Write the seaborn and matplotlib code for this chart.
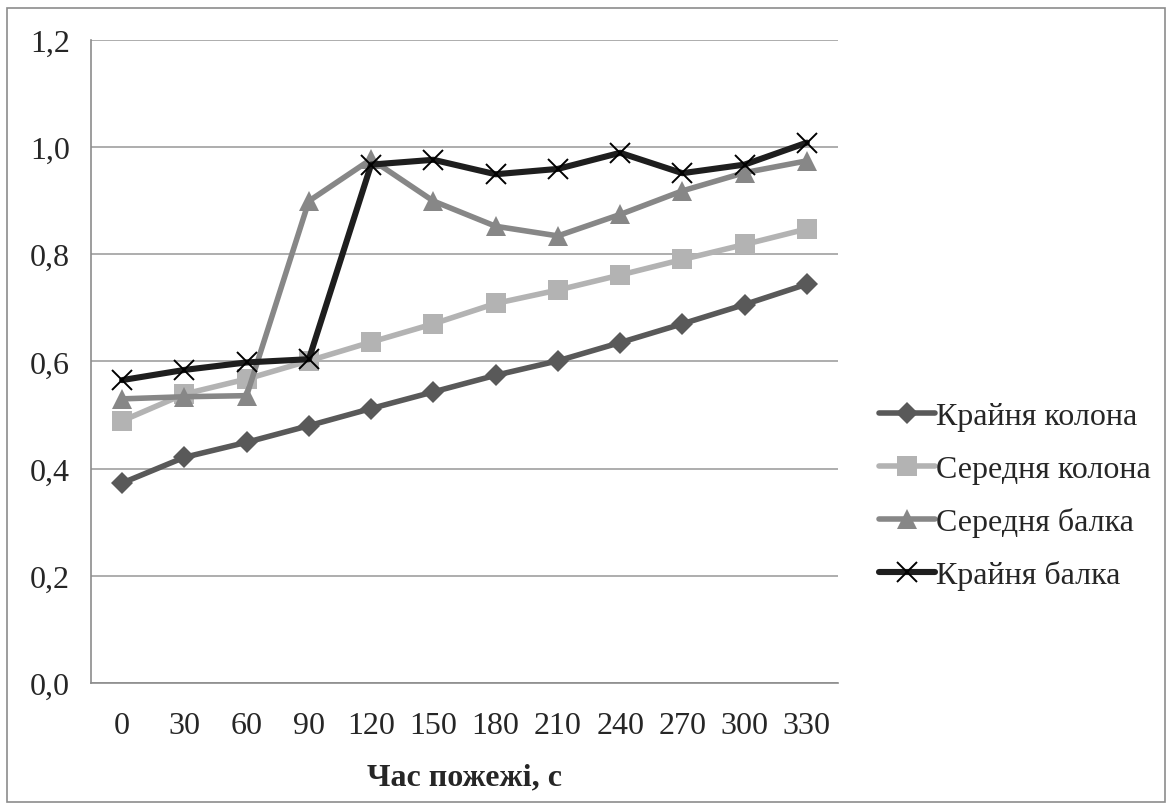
import matplotlib
matplotlib.use("Agg")
import matplotlib.pyplot as plt
import seaborn as sns
import pandas as pd
from matplotlib.patches import Rectangle

times = ["0", "30", "60", "90", "120", "150", "180", "210", "240", "270", "300", "330"]
kraynya_kolona = [0.373, 0.421, 0.449, 0.480, 0.512, 0.543, 0.574, 0.601, 0.635, 0.670, 0.706, 0.744]
serednya_kolona = [0.489, 0.539, 0.567, 0.601, 0.636, 0.670, 0.708, 0.733, 0.761, 0.790, 0.818, 0.847]
serednya_balka = [0.530, 0.534, 0.536, 0.899, 0.977, 0.899, 0.852, 0.834, 0.874, 0.918, 0.952, 0.974]
kraynya_balka = [0.565, 0.584, 0.598, 0.604, 0.967, 0.976, 0.949, 0.959, 0.989, 0.951, 0.967, 1.008]
series_names = ["Крайня колона", "Середня колона", "Середня балка", "Крайня балка"]
yticks = [0.0, 0.2, 0.4, 0.6, 0.8, 1.0, 1.2]
xlabel = "Час пожежі, с"

sns.set_style("white")
plt.rcParams["font.family"] = ["Liberation Serif", "DejaVu Serif"]

FS = 23

fig = plt.figure(figsize=(11.74, 8.12), dpi=100)
ax = fig.add_axes([91 / 1174, 1 - 684 / 812, (838 - 91) / 1174, (684 - 40.7) / 812])

pos = list(range(len(times)))
data = [kraynya_kolona, serednya_kolona, serednya_balka, kraynya_balka]
colors = ["#595959", "#b3b3b3", "#878787", "#1e1e1e"]
markers = ["D", "s", "^", "x"]
msizes = [11, 14, 14, 14]

for name, vals, c, m, ms in zip(series_names, data, colors, markers, msizes):
    df = pd.DataFrame({"x": pos, "y": vals})
    if m == "x":
        sns.lineplot(data=df, x="x", y="y", ax=ax, color=c, linewidth=4.4,
                     marker=m, markersize=ms, markeredgewidth=1.4,
                     markeredgecolor="#000000", label=name, zorder=3)
    else:
        sns.lineplot(data=df, x="x", y="y", ax=ax, color=c, linewidth=4.0,
                     marker=m, markersize=ms, markeredgewidth=0,
                     markerfacecolor=c, label=name, zorder=3)

ax.set_xlim(-0.5, len(times) - 0.5)
ax.set_ylim(0, 1.2)
ax.set_yticks(yticks)
ax.set_yticklabels([f"{v:.1f}".replace(".", ",") for v in yticks], fontsize=FS)
ax.set_xticks(pos)
ax.set_xticklabels(times, fontsize=FS)
ax.set_xticks([p - 0.5 for p in pos] + [len(times) - 0.5], minor=True)
ax.tick_params(axis="x", which="major", length=0, pad=20)
ax.tick_params(axis="x", which="minor", length=7, width=1.2, color="#8c8c8c", direction="out")
ax.tick_params(axis="y", which="major", length=7, width=1.2, color="#8c8c8c", direction="out", pad=8)
ax.grid(axis="y", color="#a0a0a0", linewidth=1.2, zorder=0)
ax.set_axisbelow(True)
for s in ["top", "right"]:
    ax.spines[s].set_visible(False)
for s in ["left", "bottom"]:
    ax.spines[s].set_color("#8c8c8c")
    ax.spines[s].set_linewidth(1.2)
ax.set_ylabel("")
ax.set_xlabel(xlabel, fontsize=FS, fontweight="bold", labelpad=16)

leg = ax.legend(loc="center left", bbox_to_anchor=(879 / 1174, 1 - 497 / 812),
                bbox_transform=fig.transFigure, frameon=False, fontsize=FS,
                handlelength=1.75, handletextpad=0.05, labelspacing=0.72,
                borderaxespad=0, borderpad=0)

fig.patches.append(Rectangle((7 / 1174, 1 - 803 / 812), (1165 - 7) / 1174, (803 - 9) / 812,
                             transform=fig.transFigure, fill=False, edgecolor="#8c8c8c",
                             linewidth=1.2))

fig.savefig("out.png", dpi=100)
